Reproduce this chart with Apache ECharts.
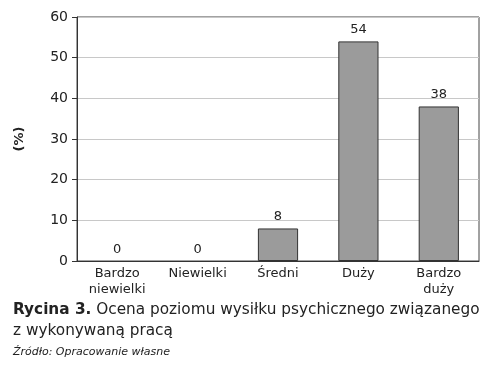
<!DOCTYPE html>
<html><head><meta charset="utf-8">
<script src="https://cdn.jsdelivr.net/npm/echarts@6/dist/echarts.min.js"></script>
<style>html,body{margin:0;padding:0;background:#fff}#c{width:500px;height:374px}</style>
</head><body><div id="c"></div>
<script>
const categories = ['Bardzo\nniewielki', 'Niewielki', 'Średni', 'Duży', 'Bardzo\nduży'];
const values = [0, 0, 8, 54, 38];
const yTicks = [0, 10, 20, 30, 40, 50, 60];
const yAxisName = '(%)';
const captionBold = 'Rycina 3.';
const captionRest = ' Ocena poziomu wysiłku psychicznego związanego';
const captionLine2 = 'z wykonywaną pracą';
const sourceText = 'Źródło: Opracowanie własne';

const FONT = 'DejaVu Sans';
const chart = echarts.init(document.getElementById('c'), null, {renderer: 'canvas'});
chart.setOption({
  animation: false,
  grid: {left: 77, right: 21, top: 17, bottom: 113, show: true, borderColor: '#444', borderWidth: 1, backgroundColor: 'transparent'},
  xAxis: {
    type: 'category', data: categories,
    axisLine: {lineStyle: {color: '#333', width: 1}},
    axisTick: {show: false},
    axisLabel: {color: '#222', fontFamily: FONT, fontSize: 13, lineHeight: 16, margin: 5, interval: 0}
  },
  yAxis: {
    type: 'value', min: yTicks[0], max: yTicks[yTicks.length - 1], interval: 10,
    name: yAxisName, nameLocation: 'middle', nameGap: 51, nameRotate: 90,
    nameTextStyle: {fontFamily: FONT, fontWeight: 'bold', fontSize: 13, color: '#222'},
    axisLine: {show: true, lineStyle: {color: '#333', width: 1}},
    axisTick: {show: true, length: 5, lineStyle: {color: '#333'}},
    axisLabel: {color: '#222', fontFamily: FONT, fontSize: 14, margin: 9},
    splitLine: {lineStyle: {color: '#c8c8c8', width: 1}}
  },
  series: [{
    type: 'bar', barWidth: '50%',
    data: values.map(v => ({value: v, itemStyle: {borderWidth: v === 0 ? 0 : 1}})),
    itemStyle: {color: '#9b9b9b', borderColor: '#333', borderWidth: 1},
    label: {show: true, position: 'top', distance: 5, color: '#222', fontFamily: FONT, fontSize: 13}
  }],
  graphic: [
    {type: 'text', left: 13, top: 303, style: {
      text: '{b|' + captionBold + '}{r|' + captionRest + '}',
      rich: {
        b: {fontFamily: FONT, fontWeight: 'bold', fontSize: 15.3, fill: '#222'},
        r: {fontFamily: FONT, fontSize: 15.3, fill: '#222'}
      }}},
    {type: 'text', left: 13, top: 324, style: {text: captionLine2, fontFamily: FONT, fontSize: 15.3, fill: '#222'}},
    {type: 'text', left: 13, top: 347, style: {text: sourceText, fontFamily: FONT, fontStyle: 'italic', fontSize: 11, fill: '#222'}}
  ]
});
</script></body></html>
